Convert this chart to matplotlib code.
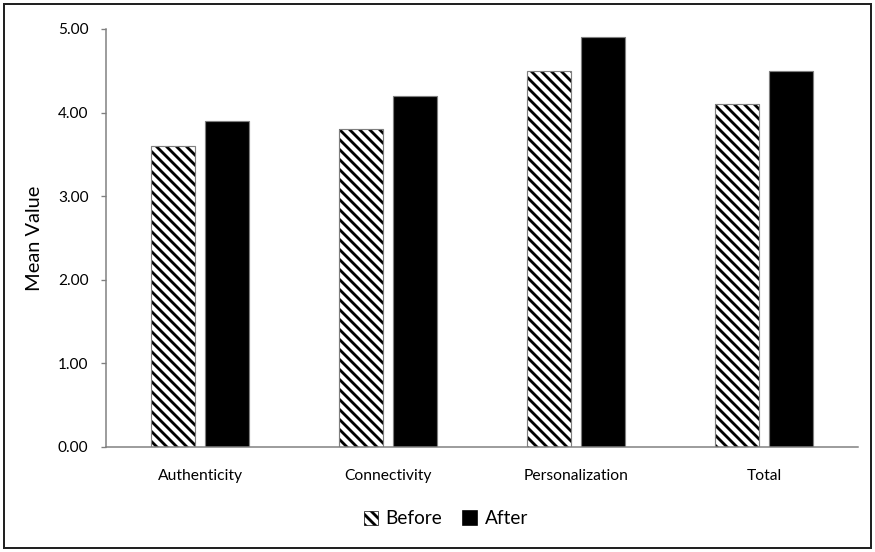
import matplotlib.pyplot as plt
import matplotlib.patches as mpatches
import numpy as np

DPI = 120
plt.rcParams['font.family'] = ['Lato', 'DejaVu Sans']
plt.rcParams['hatch.linewidth'] = 1.7

categorias = ['Authenticity', 'Connectivity', 'Personalization', 'Total']
antes = [3.6, 3.8, 4.5, 4.1]
depois = [3.9, 4.2, 4.9, 4.5]

x = np.arange(len(categorias))
largura = 0.23
desloc = 0.1435
cinza = '#7f7f7f'
hachura = '\\\\\\\\'

fig = plt.figure(figsize=(875 / DPI, 552 / DPI), dpi=DPI)
ax = fig.add_axes([106 / 875, 1 - 447 / 552, 752 / 875, 418 / 552])

# barras "Before" com hachura e contorno cinza por cima
ax.bar(x - desloc, antes, largura, color='white', edgecolor='black',
       hatch=hachura, linewidth=0, zorder=2)
ax.bar(x - desloc, antes, largura, color='none', edgecolor=cinza,
       linewidth=0.7, zorder=3)
ax.bar(x + desloc, depois, largura, color='black', edgecolor=cinza,
       linewidth=0.7, zorder=2)

ax.set_xlim(-0.5, len(categorias) - 0.5)
ax.set_ylim(0, 5)
ax.set_yticks(np.arange(0, 5.01, 1))
ax.set_yticklabels([f'{v:.2f}' for v in np.arange(0, 5.01, 1)])
ax.set_xticks(x)
ax.set_xticklabels(categorias)
ax.tick_params(axis='x', length=0, pad=13, labelsize=9.4)
ax.tick_params(axis='y', length=3, width=0.8, color=cinza, pad=7.5,
               labelsize=9.2)
ax.set_ylabel('Mean Value', fontsize=12)
ax.yaxis.set_label_coords(-0.084, 0.5)

for lado in ['top', 'right']:
    ax.spines[lado].set_visible(False)
ax.spines['left'].set_color(cinza)
ax.spines['bottom'].set_color(cinza)
ax.spines['left'].set_linewidth(0.9)
ax.spines['bottom'].set_linewidth(0.9)

h_antes = mpatches.Patch(facecolor='white', edgecolor='black',
                         hatch=hachura, linewidth=0.4, label='Before')
h_depois = mpatches.Patch(facecolor='black', edgecolor='black', label='After')
fig.legend(handles=[h_antes, h_depois], loc='center', ncol=2,
           bbox_to_anchor=(446 / 875, 1 - 519 / 552), frameon=False,
           fontsize=11.4, handlelength=0.75, handleheight=0.75,
           handletextpad=0.4, columnspacing=1.1)

# moldura em volta da figura
fig.patches.append(mpatches.Rectangle((4 / 875, 4 / 552), 867 / 875, 544 / 552,
                                      transform=fig.transFigure, fill=False,
                                      edgecolor='#222222', linewidth=1.2))

plt.savefig('out.png', dpi=DPI)
